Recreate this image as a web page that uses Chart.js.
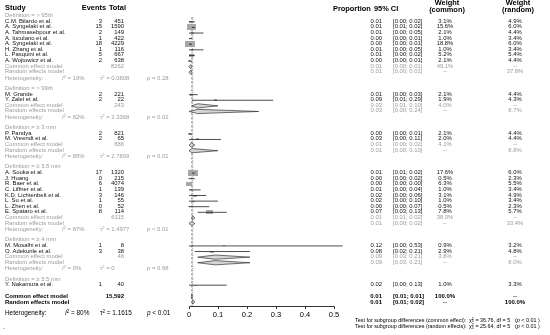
<!DOCTYPE html>
<html><head><meta charset="utf-8">
<script src="https://cdn.jsdelivr.net/npm/chart.js@4.4.1/dist/chart.umd.min.js"></script>
<style>
html,body{margin:0;padding:0;background:#fff;}
#wrap{position:relative;width:550px;height:335px;overflow:hidden;font-family:"Liberation Sans",Arial,sans-serif;}
#c{position:absolute;left:0;top:0;}
.t{position:absolute;white-space:nowrap;line-height:1;color:#111;}
.s{font-size:5.9px;color:#111;}
.g{font-size:5.9px;color:#9a9a9a;}
.h{font-size:7.4px;font-weight:bold;color:#000;}
.o{font-size:6.4px;color:#000;}
.ob{font-size:6px;font-weight:bold;color:#000;}
.ts{font-size:5.4px;color:#000;}
sup{font-size:70%;vertical-align:0.45em;line-height:0;}
.chi{display:inline-block;vertical-align:middle;line-height:0.75;font-size:70%;text-align:center;}
</style></head><body>
<div id="wrap"><canvas id="c" width="550" height="335"></canvas></div>
<script>
// ---------- data ----------
const groupLabels = ["Definition = > 95th","Definition = > 99th","Definition = \u2265 3 mm","Definition = \u2265 3.5 mm","Definition = \u2265 4 mm","Definition = \u2265 5.5 mm"];
const studyNames = ["C.M. Bilardo et al.","A. Syngelaki et al.","A. Tahmasebpour et al.","A. Iuculano et al.","A. Syngelaki et al.","H. Zhang et al.","L. Pasquini et al.","A. Wojtowicz et al.",
  "M. Grande","Y. Zalel et al.",
  "P. Pandya","M. Vreendt et al.",
  "A. Souka et al.","J. Huang","R. Baer et al.","C. Liffner et al.","K.D. Lichtenbelt et al.","L. Su et al.","L. Zhen et al.","E. Spataro et al.",
  "M. Mosalhi et al.","O. Adekunle et al.",
  "Y. Nakamura et al."];
const studyGroup = [0,0,0,0,0,0,0,0, 1,1, 2,2, 3,3,3,3,3,3,3,3, 4,4, 5];
const events = [3,15,2,1,18,1,5,2, 2,2, 2,2, 17,0,6,1,3,1,0,8, 1,3, 1];
const totals = [451,1590,149,422,4229,116,667,638, 221,22, 821,65, 1320,215,4074,139,146,55,52,114, 8,38, 40];
const props  = [0.007,0.009,0.013,0.002,0.004,0.009,0.007,0.003, 0.009,0.09, 0.002,0.03, 0.013,0.0,0.001,0.007,0.02,0.018,0.0,0.07, 0.12,0.08, 0.024];
const ciLow  = [0.00,0.01,0.00,0.00,0.00,0.00,0.00,0.00, 0.00,0.01, 0.00,0.00, 0.01,0.00,0.00,0.00,0.00,0.00,0.00,0.03, 0.00,0.02, 0.00];
const ciHigh = [0.02,0.02,0.05,0.01,0.01,0.05,0.02,0.01, 0.03,0.29, 0.01,0.11, 0.02,0.02,0.00,0.04,0.06,0.10,0.07,0.13, 0.53,0.21, 0.13];
const weightCommon = [3.1,15.6,2.1,1.0,18.8,1.0,5.2,2.1, 2.1,1.9, 2.1,2.0, 17.6,0.5,6.3,1.0,3.1,1.0,0.5,7.8, 0.9,2.9, 1.0];
const weightRandom = [4.9,6.0,4.4,3.4,6.0,3.4,5.4,4.4, 4.4,4.3, 4.4,4.4, 6.0,2.3,5.5,3.4,4.9,3.4,2.3,5.7, 3.2,4.8, 3.3];

const groupTotal   = [8262, 243, 886, 6115, 46, null];
const groupCommonEst = [0.006, 0.03, 0.008, 0.012, 0.09, null];
const groupCommonLow = [0.00, 0.01, 0.00, 0.01, 0.03, null];
const groupCommonHigh= [0.01, 0.10, 0.02, 0.02, 0.21, null];
const groupRandomEst = [0.006, 0.03, 0.01, 0.01, 0.09, null];
const groupRandomLow = [0.00, 0.00, 0.00, 0.00, 0.03, null];
const groupRandomHigh= [0.01, 0.24, 0.10, 0.02, 0.21, null];
const groupWeightCommon = [49.1, 4.0, 4.1, 38.0, 3.8, null];
const groupWeightRandom = [37.8, 8.7, 8.8, 33.4, 8.0, null];
const groupI2   = ["19%","82%","85%","87%","0%", null];
const groupTau2 = ["0.0808","2.3368","2.7809","1.4977","0", null];
const groupP    = ["= 0.28","= 0.02","= 0.01","< 0.01","= 0.68", null];

const overallTotal = "15,592";
const overallCommon = [0.010, 0.01, 0.01];   // est, low, high
const overallRandom = [0.013, 0.01, 0.02];
const overallI2 = "80%", overallTau2 = "1.1615", overallP = "< 0.01";
const testLabels = ["Test for subgroup differences (common effect):","Test for subgroup differences (random effects):"];
const testChi2 = ["36.76","25.64"];
const testDf = [5,5];
const testP = ["< 0.01","< 0.01"];
const xTicks = [0,0.1,0.2,0.3,0.4,0.5];

// ---------- row layout ----------
const studyRow = [], groupRow = [], commonRow = [], randomRow = [], hetRow = [];
let r = 1;
groupLabels.forEach((g, gi) => {
  groupRow[gi] = r++;
  studyGroup.forEach((sg, si) => { if (sg === gi) studyRow[si] = r++; });
  if (groupTotal[gi] !== null) { commonRow[gi] = r++; randomRow[gi] = r++; hetRow[gi] = r++; }
  r++;
});
const overallCommonRow = r, overallRandomRow = r + 1, overallHetRow = r + 2.9;
const yMin = -1, yMax = overallRandomRow + 0.72;

// ---------- datasets ----------
const datasets = [];
function rectStyle(w, h) {
  const c = document.createElement('canvas');
  c.width = Math.max(1, Math.round(w)); c.height = Math.max(1, Math.round(h));
  const g = c.getContext('2d'); g.fillStyle = '#a8a8a8'; g.fillRect(0, 0, c.width, c.height);
  return c;
}
datasets.push({data:[{x:overallCommon[0],y:1.2},{x:overallCommon[0],y:yMax}], showLine:true, borderColor:'#555', borderWidth:0.8, borderDash:[2,2], pointRadius:0, clip:false, order:20});
datasets.push({data:[{x:overallRandom[0],y:1.2},{x:overallRandom[0],y:yMax}], showLine:true, borderColor:'#777', borderWidth:0.8, borderDash:[0.8,1.4], pointRadius:0, clip:false, order:20});
datasets.push({
  data: props.map((p, i) => ({x:p, y:studyRow[i]})),
  pointStyle: weightCommon.map(w => { const s = 2.35 * Math.sqrt(w); return rectStyle(s, s * 0.6); }),
  pointRadius: 3, showLine:false, clip:false, order:10
});
props.forEach((p, i) => {
  datasets.push({data:[{x:ciLow[i],y:studyRow[i]},{x:ciHigh[i],y:studyRow[i]}], showLine:true, borderColor:'#000', borderWidth:0.7, pointRadius:0, clip:false, order:5});
});
function diamond(est, lo, hi, row) {
  const h = 0.38;
  datasets.push({data:[{x:lo,y:row},{x:est,y:row-h},{x:hi,y:row},{x:est,y:row+h},{x:lo,y:row}],
    showLine:true, fill:'shape', backgroundColor:'#d6d6d6', borderColor:'#333', borderWidth:0.7, pointRadius:0, tension:0, clip:false, order:1});
}
groupLabels.forEach((g, gi) => {
  if (groupTotal[gi] === null) return;
  diamond(groupCommonEst[gi], groupCommonLow[gi], groupCommonHigh[gi], commonRow[gi]);
  diamond(groupRandomEst[gi], groupRandomLow[gi], groupRandomHigh[gi], randomRow[gi]);
});
diamond(overallCommon[0], overallCommon[1], overallCommon[2], overallCommonRow);
diamond(overallRandom[0], overallRandom[1], overallRandom[2], overallRandomRow);

const chart = new Chart(document.getElementById('c'), {
  type: 'scatter',
  data: { datasets },
  options: {
    responsive:false, animation:false, devicePixelRatio:1,
    layout: { padding: { left:189, right:216, top:3.7, bottom:0 } },
    plugins: { legend:{display:false}, tooltip:{enabled:false} },
    scales: {
      x: { type:'linear', min:xTicks[0], max:xTicks[xTicks.length-1], position:'bottom',
           afterFit(s){ s.height = 29; },
           afterBuildTicks(s){ s.ticks = xTicks.map(v => ({value:v})); },
           ticks: { autoSkip:false, maxRotation:0, color:'#000', padding:1,
                    font:{family:'Liberation Sans', size:7.5},
                    callback: v => String(Math.round(v*10)/10) },
           grid: { drawOnChartArea:false, drawTicks:true, tickLength:3, color:'#000', lineWidth:0.8 },
           border: { display:true, color:'#000', width:0.8 } },
      y: { type:'linear', min:yMin, max:yMax, reverse:true, display:false }
    }
  }
});

// ---------- text table ----------
const wrap = document.getElementById('wrap');
const Y = v => chart.scales.y.getPixelForValue(v);
function txt(html, x, y, align, cls) {
  const d = document.createElement('div');
  d.className = 't ' + cls; d.innerHTML = html; d.style.top = y + 'px';
  if (align === 'r') { d.style.right = (550 - x) + 'px'; d.style.transform = 'translateY(-50%)'; }
  else if (align === 'c') { d.style.left = x + 'px'; d.style.transform = 'translate(-50%,-50%)'; }
  else { d.style.left = x + 'px'; d.style.transform = 'translateY(-50%)'; }
  wrap.appendChild(d);
}
const f2 = v => v.toFixed(2);
const ci = (a, b) => '[' + f2(a) + '; ' + f2(b) + ']';
const pct = v => v.toFixed(1) + '%';

const X = { study:5, events:102, total:124, prop:382, ci:393, wc:445, wr:515, i2:62, tau:100, p:147 };

txt('Study', X.study, Y(-0.55), 'l', 'h');
txt('Events', X.events + 4, Y(-0.55), 'r', 'h');
txt('Total', X.total + 2, Y(-0.55), 'r', 'h');
txt('Proportion', 333, Y(-0.35), 'l', 'h');
txt('95% CI', 374, Y(-0.35), 'l', 'h');
txt('Weight', X.wc + 2, Y(-1.3), 'c', 'h');
txt('(common)', X.wc + 2, Y(-0.15), 'c', 'h');
txt('Weight', X.wr + 3, Y(-1.3), 'c', 'h');
txt('(random)', X.wr + 3, Y(-0.15), 'c', 'h');

groupLabels.forEach((g, gi) => {
  txt(g, X.study, Y(groupRow[gi]), 'l', 'g');
  if (groupTotal[gi] === null) return;
  const rc = commonRow[gi], rr = randomRow[gi], rh = hetRow[gi];
  txt('Common effect model', X.study, Y(rc), 'l', 'g');
  txt(String(groupTotal[gi]), X.total, Y(rc), 'r', 'g');
  txt(f2(groupCommonEst[gi]), X.prop, Y(rc), 'r', 'g');
  txt(ci(groupCommonLow[gi], groupCommonHigh[gi]), X.ci, Y(rc), 'l', 'g');
  txt(pct(groupWeightCommon[gi]), X.wc, Y(rc), 'c', 'g');
  txt('--', X.wr, Y(rc), 'c', 'g');
  txt('Random effects model', X.study, Y(rr), 'l', 'g');
  txt(f2(groupRandomEst[gi]), X.prop, Y(rr), 'r', 'g');
  txt(ci(groupRandomLow[gi], groupRandomHigh[gi]), X.ci, Y(rr), 'l', 'g');
  txt('--', X.wc, Y(rr), 'c', 'g');
  txt(pct(groupWeightRandom[gi]), X.wr, Y(rr), 'c', 'g');
  txt('Heterogeneity:', X.study, Y(rh + 0.2), 'l', 'g');
  txt('<i>I</i><sup>2</sup> = ' + groupI2[gi], X.i2, Y(rh + 0.2), 'l', 'g');
  txt('\u03c4<sup>2</sup> = ' + groupTau2[gi], X.tau, Y(rh + 0.2), 'l', 'g');
  txt('<i>p</i> ' + groupP[gi], X.p, Y(rh + 0.2), 'l', 'g');
});
studyNames.forEach((n, i) => {
  const y = Y(studyRow[i]);
  txt(n, X.study, y, 'l', 's');
  txt(String(events[i]), X.events, y, 'r', 's');
  txt(String(totals[i]), X.total, y, 'r', 's');
  txt(f2(props[i]), X.prop, y, 'r', 's');
  txt(ci(ciLow[i], ciHigh[i]), X.ci, y, 'l', 's');
  txt(pct(weightCommon[i]), X.wc, y, 'c', 's');
  txt(pct(weightRandom[i]), X.wr, y, 'c', 's');
});
let y1 = Y(overallCommonRow), y2 = Y(overallRandomRow);
txt('Common effect model', X.study, y1, 'l', 'ob');
txt(overallTotal, X.total, y1, 'r', 'ob');
txt(f2(overallCommon[0]), X.prop, y1, 'r', 'ob');
txt(ci(overallCommon[1], overallCommon[2]), X.ci, y1, 'l', 'ob');
txt('100.0%', X.wc, y1, 'c', 'ob');
txt('--', X.wr, y1, 'c', 'ob');
txt('Random effects model', X.study, y2, 'l', 'ob');
txt(f2(overallRandom[0]), X.prop, y2, 'r', 'ob');
txt(ci(overallRandom[1], overallRandom[2]), X.ci, y2, 'l', 'ob');
txt('--', X.wc, y2, 'c', 'ob');
txt('100.0%', X.wr, y2, 'c', 'ob');
const yh = Y(overallHetRow);
txt('Heterogeneity:', X.study, yh, 'l', 'o');
txt('<i>I</i><sup>2</sup> = ' + overallI2, 65, yh, 'l', 'o');
txt('\u03c4<sup>2</sup> = ' + overallTau2, 100, yh, 'l', 'o');
txt('<i>p</i> ' + overallP, X.p, yh, 'l', 'o');
const testY = [320.5, 327];
testLabels.forEach((l, i) => {
  txt(l, 355, testY[i], 'l', 'ts');
  txt('\u03c7<span class="chi">2<br>' + testDf[i] + '</span> = ' + testChi2[i] + ', df = ' + testDf[i], 469, testY[i], 'l', 'ts');
  txt('(<i>p</i> ' + testP[i] + ' )', 515, testY[i], 'l', 'ts');
});
txt('.', 3, 327, 'l', 'o');
</script>
</body></html>
